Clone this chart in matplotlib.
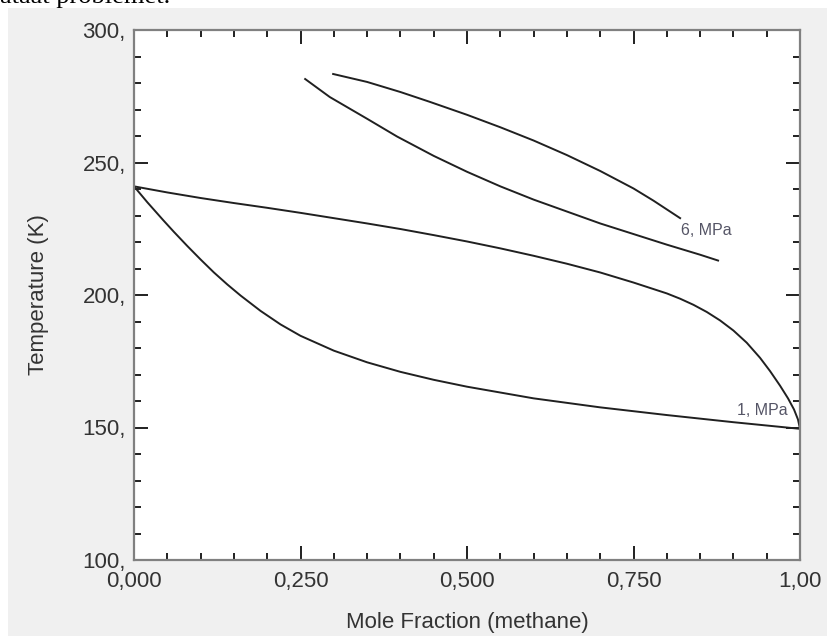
import numpy as np
import matplotlib.pyplot as plt
from matplotlib.patches import Rectangle
from matplotlib.ticker import MultipleLocator

# Txy diagram, methane mixture at 1 MPa and 6 MPa
x1_bub = [0.0, 0.02, 0.044, 0.06, 0.08, 0.1, 0.12, 0.14, 0.16, 0.19, 0.22, 0.25,
          0.3, 0.35, 0.4, 0.45, 0.5, 0.6, 0.7, 0.8, 0.9, 1.0]
T1_bub = [241.0, 235.0, 228.2, 223.8, 218.5, 213.4, 208.5, 204.0, 199.8, 194.0,
          188.9, 184.6, 179.0, 174.6, 171.0, 168.0, 165.4, 161.0, 157.6, 154.7,
          152.0, 149.5]

x1_dew = [0.0, 0.05, 0.1, 0.15, 0.2, 0.25, 0.3, 0.35, 0.4, 0.45, 0.5, 0.55, 0.6,
          0.65, 0.7, 0.75, 0.8, 0.82, 0.84, 0.86, 0.88, 0.9, 0.92, 0.94, 0.955,
          0.97, 0.982, 0.991, 0.997, 1.0]
T1_dew = [241.0, 238.7, 236.6, 234.7, 232.9, 231.0, 229.0, 227.0, 224.9, 222.6,
          220.2, 217.6, 214.8, 211.8, 208.5, 204.7, 200.6, 198.6, 196.3, 193.6,
          190.4, 186.6, 182.0, 176.3, 171.3, 165.8, 161.0, 156.8, 153.0, 149.5]

x6_bub = [0.257, 0.294, 0.35, 0.395, 0.45, 0.5, 0.55, 0.6, 0.65, 0.7, 0.75,
          0.8, 0.85, 0.877]
T6_bub = [281.5, 274.7, 266.5, 259.8, 252.5, 246.5, 241.0, 236.0, 231.5, 227.0,
          223.0, 219.0, 215.2, 213.0]

x6_dew = [0.299, 0.35, 0.4, 0.444, 0.5, 0.55, 0.6, 0.65, 0.7, 0.75, 0.78, 0.8, 0.82]
T6_dew = [283.4, 280.4, 276.6, 272.9, 268.0, 263.3, 258.3, 252.8, 246.8, 240.2,
          235.6, 232.3, 229.0]

xtick_vals = [0.0, 0.25, 0.5, 0.75, 1.0]
xtick_txt = ['0,000', '0,250', '0,500', '0,750', '1,00']
ytick_vals = [100, 150, 200, 250, 300]
ytick_txt = ['100,', '150,', '200,', '250,', '300,']

plt.rcParams['font.family'] = ['Liberation Sans', 'DejaVu Sans']

fig = plt.figure(figsize=(8.27, 6.36), dpi=100)
fig.patch.set_facecolor('white')
# grey window background
fig.patches.append(Rectangle((8 / 827, 0), 1, 1 - 8 / 636, transform=fig.transFigure,
                             facecolor='#f0f0f0', edgecolor='none', zorder=-10))
fig.text(0.0, 1.004, 'ataat problemet.', family='Liberation Serif', fontsize=19,
         ha='left', va='center', color='black')

ax = fig.add_axes([134 / 827, 1 - 560 / 636, 666 / 827, 530 / 636])
ax.set_facecolor('white')

for xs, ts in [(x1_bub, T1_bub), (x1_dew, T1_dew), (x6_bub, T6_bub), (x6_dew, T6_dew)]:
    ax.plot(xs, ts, color='#202020', lw=1.4)

ax.text(0.821, 224.5, '6, MPa', fontsize=11.5, color='#555566', ha='left', va='center')
ax.text(0.905, 156.5, '1, MPa', fontsize=11.5, color='#555566', ha='left', va='center')

ax.set_xlim(0, 1)
ax.set_ylim(100, 300)
ax.set_xticks(xtick_vals)
ax.set_xticklabels(xtick_txt)
ax.set_yticks(ytick_vals)
ax.set_yticklabels(ytick_txt)
ax.xaxis.set_minor_locator(MultipleLocator(0.05))
ax.yaxis.set_minor_locator(MultipleLocator(10))

ax.tick_params(which='both', direction='in', top=True, right=True, color='#202020')
ax.tick_params(which='major', length=10, width=1.4, labelsize=16, labelcolor='#333333')
ax.tick_params(which='minor', length=5, width=1.4)
ax.tick_params(axis='x', which='major', pad=8)
ax.tick_params(axis='y', which='major', pad=6)

for s in ax.spines.values():
    s.set_color('#808080')
    s.set_linewidth(1.6)

ax.set_xlabel('Mole Fraction (methane)', fontsize=16, color='#333333')
ax.set_ylabel('Temperature (K)', fontsize=16, color='#333333')
ax.xaxis.set_label_coords(0.5, -0.098)
ax.yaxis.set_label_coords(-0.127, 0.5)

fig.savefig('out.png', dpi=100)
